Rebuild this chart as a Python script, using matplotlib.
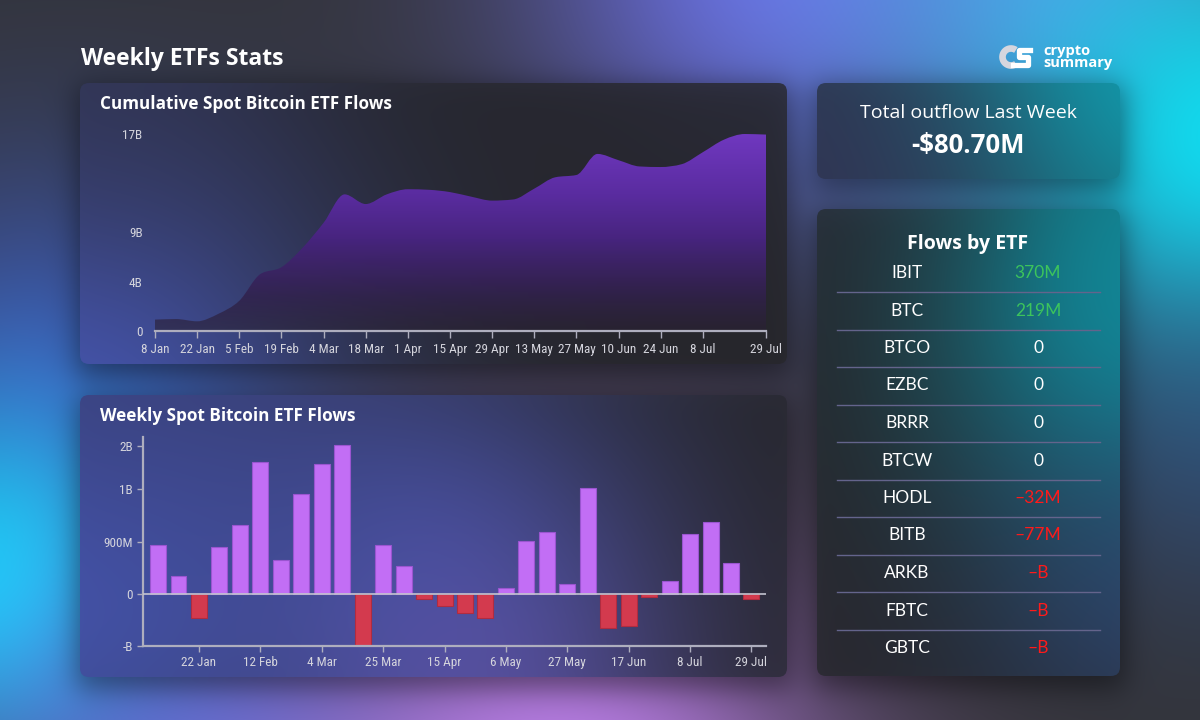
"""
Weekly ETFs Stats dashboard - cumulative area + weekly bar chart + ETF table.
Output: out.png (1200x720)
"""

import numpy as np
import matplotlib
matplotlib.use("Agg")
import matplotlib.pyplot as plt
from matplotlib import font_manager as fm
from matplotlib.patches import FancyBboxPatch, PathPatch
from matplotlib.path import Path
from matplotlib.colors import to_rgb

# ── Data ──────────────────────────────────────────────────────────────────────
week_labels = ["8 Jan", "15 Jan", "22 Jan", "29 Jan", "5 Feb", "12 Feb", "19 Feb",
               "26 Feb", "4 Mar", "11 Mar", "18 Mar", "25 Mar", "1 Apr", "8 Apr",
               "15 Apr", "22 Apr", "29 Apr", "6 May", "13 May", "20 May", "27 May",
               "3 Jun", "10 Jun", "17 Jun", "24 Jun", "1 Jul", "8 Jul", "15 Jul",
               "22 Jul", "29 Jul"]

# cumulative flows, billions USD
cumulative_b = [1.0, 1.05, 0.85, 1.5, 2.65, 5.0, 5.6, 7.3, 9.5, 12.0,
                11.15, 12.0, 12.45, 12.4, 12.2, 11.8, 11.45, 11.55, 12.5, 13.5,
                13.7, 15.55, 15.0, 14.45, 14.4, 14.65, 15.7, 16.8, 17.3, 17.25]

# weekly net flows, billions USD
weekly_b = [0.85, 0.31, -0.42, 0.81, 1.19, 2.28, 0.58, 1.72, 2.24, 2.57,
            -0.89, 0.85, 0.48, -0.086, -0.21, -0.33, -0.42, 0.11, 0.91, 1.06,
            0.17, 1.83, -0.58, -0.55, -0.057, 0.23, 1.04, 1.24, 0.53, -0.0807]

top_tick_idx = [0, 2, 4, 6, 8, 10, 12, 14, 16, 18, 20, 22, 24, 26, 29]
bot_tick_idx = [2, 5, 8, 11, 14, 17, 20, 23, 26, 29]

cum_ytick_vals = [0, 4.325, 8.65, 17.3]
cum_ytick_labels = ["0", "4B", "9B", "17B"]
wk_ytick_vals = [-0.9, 0, 0.9, 1.8, 2.55]
wk_ytick_labels = ["-B", "0", "900M", "1B", "2B"]

etf_names = ["IBIT", "BTC", "BTCO", "EZBC", "BRRR", "BTCW", "HODL", "BITB",
             "ARKB", "FBTC", "GBTC"]
etf_flows = ["370M", "219M", "0", "0", "0", "0", "\u201332M", "\u201377M",
             "\u2013B", "\u2013B", "\u2013B"]

total_label = "Total outflow Last Week"
total_value = "-$80.70M"

# ── Styling ───────────────────────────────────────────────────────────────────
W, H = 1200, 720
TXT = "#ffffff"
TICK = "#d4d4dc"
AXIS = "#aeaebe"
PURPLE = "#c26ef5"
RED = "#d33a4e"
GREEN = "#3cc45c"
NEG = "#ff1a1a"
SANS = ["Lato", "DejaVu Sans"]
HEAD = ["Open Sans", "DejaVu Sans"]

# pick a narrow face for tick labels if one is installed
names = {f.name for f in fm.fontManager.ttflist}
cond = {f.name for f in fm.fontManager.ttflist if f.stretch == "condensed"}
NARROW = dict(family="DejaVu Sans", stretch="normal", size=8)
for cand in ["Roboto Condensed", "Liberation Sans Narrow", "Open Sans Condensed"]:
    if cand in names:
        NARROW = dict(family=cand, stretch="normal", size=9.5)
        break
else:
    if "DejaVu Sans" in cond:
        NARROW = dict(family="DejaVu Sans", stretch="condensed", size=8.5)
    elif cond:
        NARROW = dict(family=sorted(cond)[0], stretch="condensed", size=9)

yy, xx = np.mgrid[0:H, 0:W].astype(float)


def blob(img, cx, cy, s, col, w):
    a = w * np.exp(-((xx - cx) ** 2 + (yy - cy) ** 2) / (2 * s ** 2))
    return img * (1 - a[..., None]) + np.array(to_rgb(col)) * a[..., None]


def sig(z):
    return 1.0 / (1.0 + np.exp(-z))


# ── Background ────────────────────────────────────────────────────────────────
bg = np.ones((H, W, 3)) * np.array(to_rgb("#333337"))
for g in [(60, 430, 190, "#4060d0", 0.85), (0, 585, 120, "#10dcf8", 1.0),
          (200, 780, 190, "#6272ea", 0.75), (560, 770, 190, "#c282f0", 0.9),
          (790, -50, 190, "#7272f2", 0.9), (1060, -40, 170, "#58a4f2", 0.85),
          (1230, 150, 150, "#10e0f2", 1.0), (1230, 430, 140, "#3058a0", 0.45)]:
    bg = blob(bg, *g)

panels = [(80, 83, 787, 364), (80, 395, 787, 677),
          (817, 83, 1120, 179), (817, 209, 1120, 676)]
for x0, y0, x1, y1 in panels:
    s = 9.0
    m = (sig((xx - x0 + 4) / s) * sig((x1 + 4 - xx) / s)
         * sig((yy - y0 - 2) / s) * sig((y1 + 12 - yy) / s))
    bg = bg * (1 - 0.45 * m[..., None])

fig = plt.figure(figsize=(12, 7.2), dpi=100)
axb = fig.add_axes([0, 0, 1, 1])
axb.set_xlim(0, W)
axb.set_ylim(H, 0)
axb.axis("off")
axb.imshow(np.clip(bg, 0, 1), extent=[0, W, H, 0], aspect="auto", zorder=0)

panel_glows = [
    [(70, 400, 190, "#4a5cc2", 0.85), (90, 90, 150, "#363a60", 0.5)],
    [(60, 560, 200, "#4a5cc4", 0.85), (420, 580, 170, "#4a58b8", 0.7),
     (480, 700, 120, "#6a58b4", 0.5), (100, 400, 150, "#3a3f78", 0.5)],
    [(1150, 70, 170, "#0fa2b4", 0.9), (830, 190, 140, "#363660", 0.6)],
    [(1150, 330, 150, "#108898", 0.9), (1150, 600, 130, "#34508c", 0.5),
     (1150, 220, 90, "#1090a0", 0.6)],
]
for (x0, y0, x1, y1), glows in zip(panels, panel_glows):
    img = bg * 0.2 + np.array(to_rgb("#27272b")) * 0.8
    for g in glows:
        img = blob(img, *g)
    patch = FancyBboxPatch((x0, y0), x1 - x0, y1 - y0,
                           boxstyle="round,pad=0,rounding_size=9",
                           lw=0, fc="none", zorder=1)
    axb.add_patch(patch)
    im = axb.imshow(np.clip(img, 0, 1), extent=[0, W, H, 0], aspect="auto", zorder=1)
    im.set_clip_path(patch)

# ── Header texts ──────────────────────────────────────────────────────────────
axb.text(81, 59, "Weekly ETFs Stats", ha="left", va="center", fontsize=16.5,
         fontweight="bold", color=TXT, family=HEAD, zorder=3)
axb.text(100, 104, "Cumulative Spot Bitcoin ETF Flows", ha="left", va="center",
         fontsize=12.3, fontweight="bold", color=TXT, family=HEAD, zorder=3)
axb.text(100, 416, "Weekly Spot Bitcoin ETF Flows", ha="left", va="center",
         fontsize=12.3, fontweight="bold", color=TXT, family=HEAD, zorder=3)

# logo
th = np.linspace(np.deg2rad(55), np.deg2rad(305), 40)
axb.plot(1011 + 8.5 * np.cos(th), 57 - 8.5 * np.sin(th), color="#d6d6de", lw=4.8,
         solid_capstyle="butt", zorder=3)
axb.plot([1030, 1019, 1019, 1028, 1028, 1013], [50, 50, 57, 57, 64.5, 64.5],
         color="#ffffff", lw=3.8, solid_joinstyle="round", zorder=4)
axb.text(1043, 55, "crypto", ha="left", va="baseline", fontsize=10.5,
         fontweight="bold", color=TXT, family=HEAD, zorder=3)
axb.text(1043, 67, "summary", ha="left", va="baseline", fontsize=10.5,
         fontweight="bold", color=TXT, family=HEAD, zorder=3)

# total outflow card
axb.text(968, 113, total_label, ha="center", va="center", fontsize=14,
         color=TXT, family=HEAD, zorder=3)
axb.text(968, 145, total_value, ha="center", va="center", fontsize=18.5,
         fontweight="bold", color=TXT, family=HEAD, zorder=3)

# flows by ETF table
axb.text(968, 244, "Flows by ETF", ha="center", va="center", fontsize=14,
         fontweight="bold", color=TXT, family=HEAD, zorder=3)
for i, (name, val) in enumerate(zip(etf_names, etf_flows)):
    yr = 273 + 37.5 * i
    if val.startswith("\u2013") or val.startswith("-"):
        vc = NEG
    elif val == "0":
        vc = TXT
    else:
        vc = GREEN
    axb.text(907, yr, name, ha="center", va="center", fontsize=12.5,
             color=TXT, family=SANS, zorder=3)
    axb.text(1038, yr, val, ha="center", va="center", fontsize=12.5,
             color=vc, family=SANS, zorder=3)
    if i < len(etf_names) - 1:
        axb.plot([837, 1100], [yr + 19, yr + 19], color="#64648c", lw=1, zorder=3)

# ── Cumulative area chart ─────────────────────────────────────────────────────
def monotone_path(x, y):
    x = np.asarray(x, float)
    y = np.asarray(y, float)
    h = np.diff(x)
    d = np.diff(y) / h
    m = np.zeros(len(x))
    m[0], m[-1] = d[0], d[-1]
    for i in range(1, len(x) - 1):
        if d[i - 1] * d[i] <= 0:
            m[i] = 0
        else:
            p = (d[i - 1] * h[i] + d[i] * h[i - 1]) / (h[i - 1] + h[i])
            m[i] = np.sign(d[i]) * min(abs(d[i - 1]), abs(d[i]), 0.5 * abs(p)) * 2
    verts = [(x[0], y[0])]
    codes = [Path.MOVETO]
    for i in range(len(x) - 1):
        dx = h[i] / 3
        verts += [(x[i] + dx, y[i] + m[i] * dx), (x[i + 1] - dx, y[i + 1] - m[i + 1] * dx),
                  (x[i + 1], y[i + 1])]
        codes += [Path.CURVE4] * 3
    return verts, codes


ax1 = fig.add_axes([155 / W, 1 - 331 / H, (766 - 155) / W, (331 - 134) / H])
ax1.patch.set_alpha(0)
ax1.set_xlim(0, len(cumulative_b) - 1)
ax1.set_ylim(0, 17.3)

xs = np.arange(len(cumulative_b))
verts, codes = monotone_path(xs, cumulative_b)
verts += [(xs[-1], 0), (0, 0), (0, 0)]
codes += [Path.LINETO, Path.LINETO, Path.CLOSEPOLY]
area = PathPatch(Path(verts, codes), fc="none", lw=0)
ax1.add_patch(area)

stops_y = [0, 3, 8, 12, 17.3]
stops_c = [to_rgb("#2a2234"), to_rgb("#31214c"), to_rgb("#47247e"),
           to_rgb("#5a2ca0"), to_rgb("#7038c0")]
stops_a = [0.6, 0.85, 1, 1, 1]
gy = np.linspace(0, 17.3, 256)
grad = np.zeros((256, 1, 4))
for k in range(3):
    grad[:, 0, k] = np.interp(gy, stops_y, [c[k] for c in stops_c])
grad[:, 0, 3] = np.interp(gy, stops_y, stops_a)
gim = ax1.imshow(grad, extent=[0, xs[-1], 0, 17.3], origin="lower", aspect="auto")
gim.set_clip_path(area)

for s in ["top", "right", "left"]:
    ax1.spines[s].set_visible(False)
ax1.spines["bottom"].set_color(AXIS)
ax1.spines["bottom"].set_linewidth(1.6)
ax1.set_xticks(top_tick_idx)
ax1.set_xticklabels([week_labels[i] for i in top_tick_idx])
ax1.set_yticks(cum_ytick_vals)
ax1.set_yticklabels(cum_ytick_labels)
ax1.tick_params(axis="x", colors=AXIS, length=5, width=1, pad=4, labelcolor=TICK)
ax1.tick_params(axis="y", length=0, pad=9, labelcolor=TICK)
for lab in ax1.get_xticklabels() + ax1.get_yticklabels():
    lab.set_family(NARROW["family"])
    lab.set_stretch(NARROW["stretch"])
    lab.set_fontsize(NARROW["size"])

# ── Weekly bar chart ──────────────────────────────────────────────────────────
ax2 = fig.add_axes([142.5 / W, 1 - 646.3 / H, (766 - 142.5) / W, (646.3 - 437.1) / H])
ax2.patch.set_alpha(0)
ax2.set_xlim(-0.76, 29.71)
ax2.set_ylim(-0.9, 2.7)
xb = np.arange(len(weekly_b))
colors = [PURPLE if v >= 0 else RED for v in weekly_b]
edges = ["#9a55d0" if v >= 0 else "#b02c40" for v in weekly_b]
ax2.bar(xb, weekly_b, width=0.78, color=colors, edgecolor=edges, lw=0.8, zorder=2)
ax2.axhline(0, color="#c4c4d0", lw=1.2, zorder=3)

for s in ["top", "right"]:
    ax2.spines[s].set_visible(False)
for s in ["left", "bottom"]:
    ax2.spines[s].set_color(AXIS)
    ax2.spines[s].set_linewidth(1.6)
ax2.set_xticks(bot_tick_idx)
ax2.set_xticklabels([week_labels[i] for i in bot_tick_idx])
ax2.set_yticks(wk_ytick_vals)
ax2.set_yticklabels(wk_ytick_labels)
ax2.tick_params(colors=AXIS, length=4, width=1, pad=3, labelcolor=TICK)
for lab in ax2.get_xticklabels() + ax2.get_yticklabels():
    lab.set_family(NARROW["family"])
    lab.set_stretch(NARROW["stretch"])
    lab.set_fontsize(NARROW["size"])

fig.savefig("out.png", dpi=100)
plt.close(fig)
print("Saved: out.png")
